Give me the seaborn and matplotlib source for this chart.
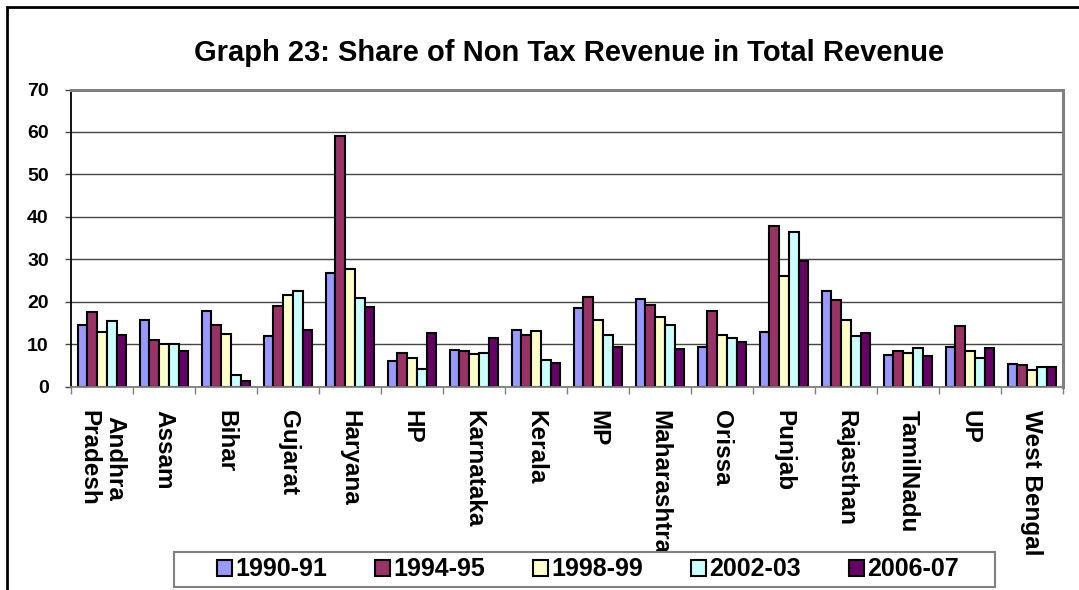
import pandas as pd
import numpy as np
import matplotlib
matplotlib.use("Agg")
import matplotlib.pyplot as plt
import seaborn as sns
from matplotlib.patches import Rectangle

# -----------------------------
# Data
# -----------------------------
states = ['Andhra\nPradesh', 'Assam', 'Bihar', 'Gujarat', 'Haryana', 'HP', 'Karnataka',
          'Kerala', 'MP', 'Maharashtra', 'Orissa', 'Punjab', 'Rajasthan', 'TamilNadu',
          'UP', 'West Bengal']
years = ['1990-91', '1994-95', '1998-99', '2002-03', '2006-07']

share_1990 = [14.6, 15.7, 17.8, 12.0, 26.8, 5.9, 8.7, 13.4, 18.6, 20.6, 9.3, 12.9, 22.5, 7.5, 9.4, 5.4]
share_1994 = [17.5, 11.0, 14.4, 19.0, 59.0, 7.9, 8.4, 12.1, 21.2, 19.2, 17.9, 37.8, 20.5, 8.4, 14.2, 5.0]
share_1998 = [12.9, 10.0, 12.4, 21.6, 27.8, 6.8, 7.7, 13.1, 15.7, 16.4, 12.2, 26.1, 15.7, 8.0, 8.3, 3.9]
share_2002 = [15.4, 10.1, 2.8, 22.4, 20.8, 4.2, 7.9, 6.3, 12.2, 14.5, 11.4, 36.5, 12.0, 9.0, 6.8, 4.6]
share_2006 = [12.2, 8.3, 1.4, 13.2, 18.8, 12.7, 11.4, 5.5, 9.4, 8.8, 10.5, 29.6, 12.5, 7.2, 9.0, 4.5]

colors = ['#9999FF', '#993366', '#FFFFCC', '#CCFFFF', '#660066']

# long-form table for seaborn
rows = []
for yr, vals in zip(years, [share_1990, share_1994, share_1998, share_2002, share_2006]):
    for st, v in zip(states, vals):
        rows.append({'State': st, 'Year': yr, 'Share': v})
df = pd.DataFrame(rows)

# -----------------------------
# Plot
# -----------------------------
sns.set_style('white')
plt.rcParams['font.family'] = ['Liberation Sans', 'DejaVu Sans']
plt.rcParams['font.weight'] = 'bold'
plt.rcParams['text.color'] = 'black'
plt.rcParams['xtick.color'] = 'black'
plt.rcParams['ytick.color'] = 'black'

fig = plt.figure(figsize=(10.79, 5.90), dpi=100)
ax = fig.add_axes([71/1079, 1 - 386.5/590, (1063 - 71)/1079, (386.5 - 89.5)/590])

sns.barplot(data=df, x='State', y='Share', hue='Year', order=states, hue_order=years,
            palette=colors, width=0.78, edgecolor='black', linewidth=1.5,
            saturation=1, ax=ax, legend=True, err_kws={'linewidth': 0})

ax.set_ylim(0, 70)
ax.set_xlim(-0.5, len(states) - 0.5)
ax.set_yticks(range(0, 71, 10))
ax.yaxis.grid(True, color='#444444', linewidth=1)
ax.set_axisbelow(True)
ax.set_xlabel('')
ax.set_ylabel('')

for side in ['top', 'right']:
    ax.spines[side].set_visible(True)
    ax.spines[side].set_color('#808080')
    ax.spines[side].set_linewidth(2.2)
ax.spines['left'].set_color('black')
ax.spines['left'].set_linewidth(1.3)
ax.spines['bottom'].set_color('#808080')
ax.spines['bottom'].set_linewidth(1.3)

ax.tick_params(axis='y', left=True, length=4, width=1, color='#444444',
               labelsize=14, pad=12, labelcolor='black')
ax.set_xticks(np.arange(-0.5, len(states), 1), minor=True)
ax.tick_params(axis='x', which='minor', bottom=True, length=5, width=1, color='#808080')
ax.tick_params(axis='x', which='major', bottom=False, length=0, pad=17, labelsize=17.5,
               labelcolor='black')
for lbl in ax.get_xticklabels():
    lbl.set_rotation(-90)
    lbl.set_va('top')
    lbl.set_ha('center')
    lbl.set_fontweight('bold')
for lbl in ax.get_yticklabels():
    lbl.set_fontweight('bold')

# legend at the bottom, with its own frame box
handles, labels = ax.get_legend_handles_labels()
ax.legend_.remove()
fig.patches.append(Rectangle((174/1079, 1 - 587/590), (995 - 174)/1079, 35/590,
                             transform=fig.transFigure, facecolor='white',
                             edgecolor='#808080', linewidth=1.5, zorder=9))
leg = fig.legend(handles, labels, loc='center', ncol=5,
                 bbox_to_anchor=(588/1079, 1 - 569.5/590),
                 frameon=False, prop={'size': 18, 'weight': 'bold'},
                 handlelength=0.6, handleheight=0.6, handletextpad=0.15,
                 columnspacing=1.9, borderpad=0.1, borderaxespad=0)
leg.set_zorder(10)
for h in leg.legend_handles:
    h.set_edgecolor('black')
    h.set_linewidth(1.5)

fig.text(569/1079, 1 - 61/590, 'Graph 23: Share of Non Tax Revenue in Total Revenue',
         ha='center', va='baseline', fontsize=21, fontweight='bold', color='black')

# outer chart border (cropped at right and bottom)
fig.patches.append(Rectangle((7/1079, -0.05), 1.1, 1 - 7/590 + 0.05, transform=fig.transFigure,
                             fill=False, edgecolor='black', linewidth=2, zorder=20))

fig.savefig('out.png', dpi=100)
